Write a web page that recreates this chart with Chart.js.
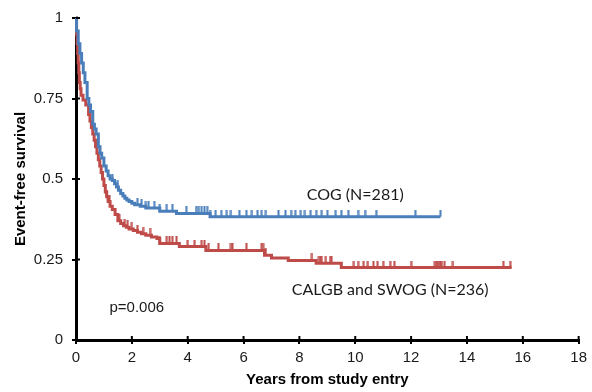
<!DOCTYPE html>
<html lang="en">
<head>
    <meta charset="UTF-8">
    <title>Event-free survival</title>
    <script src="https://cdn.jsdelivr.net/npm/chart.js@4"></script>
    <style>
        body { margin: 0; background: #fff; }
        canvas { display: block; }
    </style>
</head>
<body>
    <canvas id="km" width="592" height="392"></canvas>

    <script>
        // KM curves: [years, survival] at each drop
        const cogTimes = [0, 0.02, 0.08, 0.14, 0.2, 0.26, 0.32, 0.4, 0.46, 0.52, 0.6, 0.66, 0.72, 0.8, 0.86, 0.92, 1.0, 1.08, 1.15, 1.22, 1.3, 1.38, 1.45, 1.52, 1.6, 1.68, 1.75, 1.82, 1.9, 2.0, 2.1, 2.3, 2.5, 3.0, 3.6, 4.8, 13.05];
        const cogSurv  = [1, 0.96, 0.92, 0.89, 0.86, 0.83, 0.80, 0.75, 0.73, 0.71, 0.67, 0.655, 0.64, 0.60, 0.58, 0.565, 0.54, 0.525, 0.51, 0.50, 0.495, 0.485, 0.475, 0.465, 0.455, 0.447, 0.44, 0.435, 0.43, 0.425, 0.42, 0.415, 0.41, 0.40, 0.393, 0.383, 0.383];
        const cogCensor = [1.3, 1.5, 2.2, 2.35, 2.5, 2.6, 2.8, 3.0, 3.25, 3.45, 3.95, 4.3, 4.4, 4.5, 4.6, 4.7, 4.8, 5.0, 5.2, 5.4, 5.55, 5.85, 6.1, 6.3, 6.5, 6.65, 6.8, 7.25, 7.5, 7.7, 7.85, 8.05, 8.2, 8.4, 8.6, 8.8, 9.0, 9.3, 9.5, 9.75, 10.1, 10.35, 10.75, 12.15, 13.05];

        const calgbTimes = [0, 0.02, 0.04, 0.06, 0.08, 0.1, 0.12, 0.15, 0.18, 0.25, 0.35, 0.45, 0.5, 0.55, 0.6, 0.65, 0.7, 0.75, 0.8, 0.85, 0.9, 0.95, 1.0, 1.05, 1.1, 1.15, 1.22, 1.3, 1.4, 1.5, 1.6, 1.7, 1.8, 1.9, 2.05, 2.2, 2.35, 2.5, 2.7, 2.9, 3.0, 3.7, 4.65, 6.75, 7.0, 7.6, 8.6, 9.5, 15.6];
        const calgbSurv  = [1, 0.95, 0.92, 0.89, 0.86, 0.83, 0.80, 0.78, 0.76, 0.745, 0.73, 0.70, 0.68, 0.66, 0.64, 0.62, 0.60, 0.58, 0.56, 0.54, 0.52, 0.50, 0.48, 0.46, 0.445, 0.43, 0.415, 0.405, 0.39, 0.37, 0.362, 0.355, 0.35, 0.345, 0.34, 0.335, 0.33, 0.325, 0.32, 0.315, 0.30, 0.29, 0.278, 0.263, 0.255, 0.247, 0.238, 0.225, 0.225];
        const calgbCensor = [1.1, 1.2, 1.55, 1.75, 1.85, 2.0, 2.2, 2.4, 2.65, 3.0, 3.25, 3.35, 3.45, 3.6, 4.0, 4.25, 4.5, 4.6, 4.75, 5.1, 5.55, 5.6, 6.1, 6.65, 6.7, 6.8, 8.45, 8.7, 8.75, 8.8, 8.95, 9.1, 9.15, 9.95, 10.1, 10.3, 10.45, 10.65, 10.8, 11.0, 11.25, 11.4, 12.0, 12.85, 12.9, 12.95, 13.0, 13.05, 13.1, 13.2, 13.5, 15.3, 15.55];

        const xTicks = [0, 2, 4, 6, 8, 10, 12, 14, 16, 18];
        const yTickLabels = { 0: '0', 0.25: '0.25', 0.5: '0.5', 0.75: '0.75', 1: '1' };

        // text notes placed in data units
        const notes = [
            { text: 'COG (N=281)', x: 10.0, y: 0.452, font: '16px Lato', align: 'center' },
            { text: 'CALGB and SWOG (N=236)', x: 11.25, y: 0.157, font: '16px Lato', align: 'center' },
            { text: 'p=0.006', x: 1.2, y: 0.10, font: '15px "Liberation Sans", Arial', align: 'left' }
        ];

        const BLUE = '#4A7EBB';
        const RED = '#BE4B48';

        function toPoints(ts, ss) {
            return ts.map((t, i) => ({ x: t, y: ss[i] }));
        }
        // survival value at time t (step lookup)
        function survAt(ts, ss, t) {
            let v = ss[0];
            for (let i = 0; i < ts.length; i++) {
                if (ts[i] <= t + 1e-9) v = ss[i];
            }
            return v;
        }
        function censorPoints(cs, ts, ss) {
            return cs.map(t => ({ x: t, y: survAt(ts, ss, t) }));
        }
        // small upward tick used as censor mark
        function tickMark(color) {
            const c = document.createElement('canvas');
            c.width = 3;
            c.height = 14;
            const g = c.getContext('2d');
            g.fillStyle = color;
            g.fillRect(0.5, 0, 2, 7);
            return c;
        }

        // tick marks crossing the axis lines + text notes
        const extras = {
            id: 'extras',
            afterDraw(chart) {
                const ctx = chart.ctx;
                const xs = chart.scales.x, ys = chart.scales.y;
                ctx.save();
                ctx.strokeStyle = '#000';
                ctx.lineWidth = 2;
                xs.ticks.forEach(tk => {
                    const px = xs.getPixelForValue(tk.value);
                    ctx.beginPath();
                    ctx.moveTo(px, ys.bottom - 4);
                    ctx.lineTo(px, ys.bottom);
                    ctx.stroke();
                });
                ys.ticks.forEach(tk => {
                    const py = ys.getPixelForValue(tk.value);
                    ctx.beginPath();
                    ctx.moveTo(xs.left, py);
                    ctx.lineTo(xs.left + 4, py);
                    ctx.stroke();
                });
                ctx.fillStyle = '#1a1a1a';
                ctx.textBaseline = 'middle';
                notes.forEach(n => {
                    ctx.font = n.font;
                    ctx.textAlign = n.align;
                    ctx.fillText(n.text, xs.getPixelForValue(n.x), ys.getPixelForValue(n.y));
                });
                ctx.restore();
            }
        };

        const ctx = document.getElementById('km').getContext('2d');
        new Chart(ctx, {
            type: 'line',
            data: {
                datasets: [
                    {
                        label: 'COG',
                        data: toPoints(cogTimes, cogSurv),
                        borderColor: BLUE,
                        borderWidth: 3,
                        stepped: 'before',
                        pointRadius: 0,
                        fill: false,
                        clip: false
                    },
                    {
                        label: 'COG censored',
                        type: 'scatter',
                        data: censorPoints(cogCensor, cogTimes, cogSurv),
                        pointStyle: tickMark(BLUE),
                        showLine: false,
                        clip: false
                    },
                    {
                        label: 'CALGB and SWOG',
                        data: toPoints(calgbTimes, calgbSurv),
                        borderColor: RED,
                        borderWidth: 3,
                        stepped: 'before',
                        pointRadius: 0,
                        fill: false,
                        clip: false
                    },
                    {
                        label: 'CALGB and SWOG censored',
                        type: 'scatter',
                        data: censorPoints(calgbCensor, calgbTimes, calgbSurv),
                        pointStyle: tickMark(RED),
                        showLine: false,
                        clip: false
                    }
                ]
            },
            options: {
                responsive: false,
                animation: false,
                layout: { padding: { left: 0, top: 16, right: 10, bottom: 0 } },
                plugins: {
                    legend: { display: false },
                    tooltip: { enabled: false }
                },
                scales: {
                    x: {
                        type: 'linear',
                        min: 0,
                        max: 18,
                        afterBuildTicks: s => { s.ticks = xTicks.map(v => ({ value: v })); },
                        afterFit: s => { s.height = 52; },
                        border: { color: '#000', width: 3 },
                        grid: { drawOnChartArea: false, color: '#000', lineWidth: 2, tickLength: 4 },
                        ticks: {
                            color: '#1a1a1a',
                            padding: 5,
                            maxRotation: 0,
                            font: { family: '"Liberation Sans", Arial', size: 15 }
                        },
                        title: {
                            display: true,
                            text: 'Years from study entry',
                            color: '#000',
                            padding: { top: 2, bottom: 3 },
                            font: { family: '"Liberation Sans", Arial', size: 15, weight: 'bold' }
                        }
                    },
                    y: {
                        type: 'linear',
                        min: 0,
                        max: 1,
                        afterBuildTicks: s => {
                            s.ticks = Object.keys(yTickLabels).map(Number).sort((a, b) => a - b).map(v => ({ value: v }));
                        },
                        afterFit: s => { s.width = 76; },
                        border: { color: '#000', width: 3 },
                        grid: { drawOnChartArea: false, color: '#000', lineWidth: 2, tickLength: 4 },
                        ticks: {
                            color: '#1a1a1a',
                            padding: 9,
                            callback: v => yTickLabels[v],
                            font: { family: '"Liberation Sans", Arial', size: 15 }
                        },
                        title: {
                            display: true,
                            text: 'Event-free survival',
                            color: '#000',
                            padding: { top: 12, bottom: 0 },
                            font: { family: '"Liberation Sans", Arial', size: 15, weight: 'bold' }
                        }
                    }
                }
            },
            plugins: [extras]
        });
    </script>
</body>
</html>
